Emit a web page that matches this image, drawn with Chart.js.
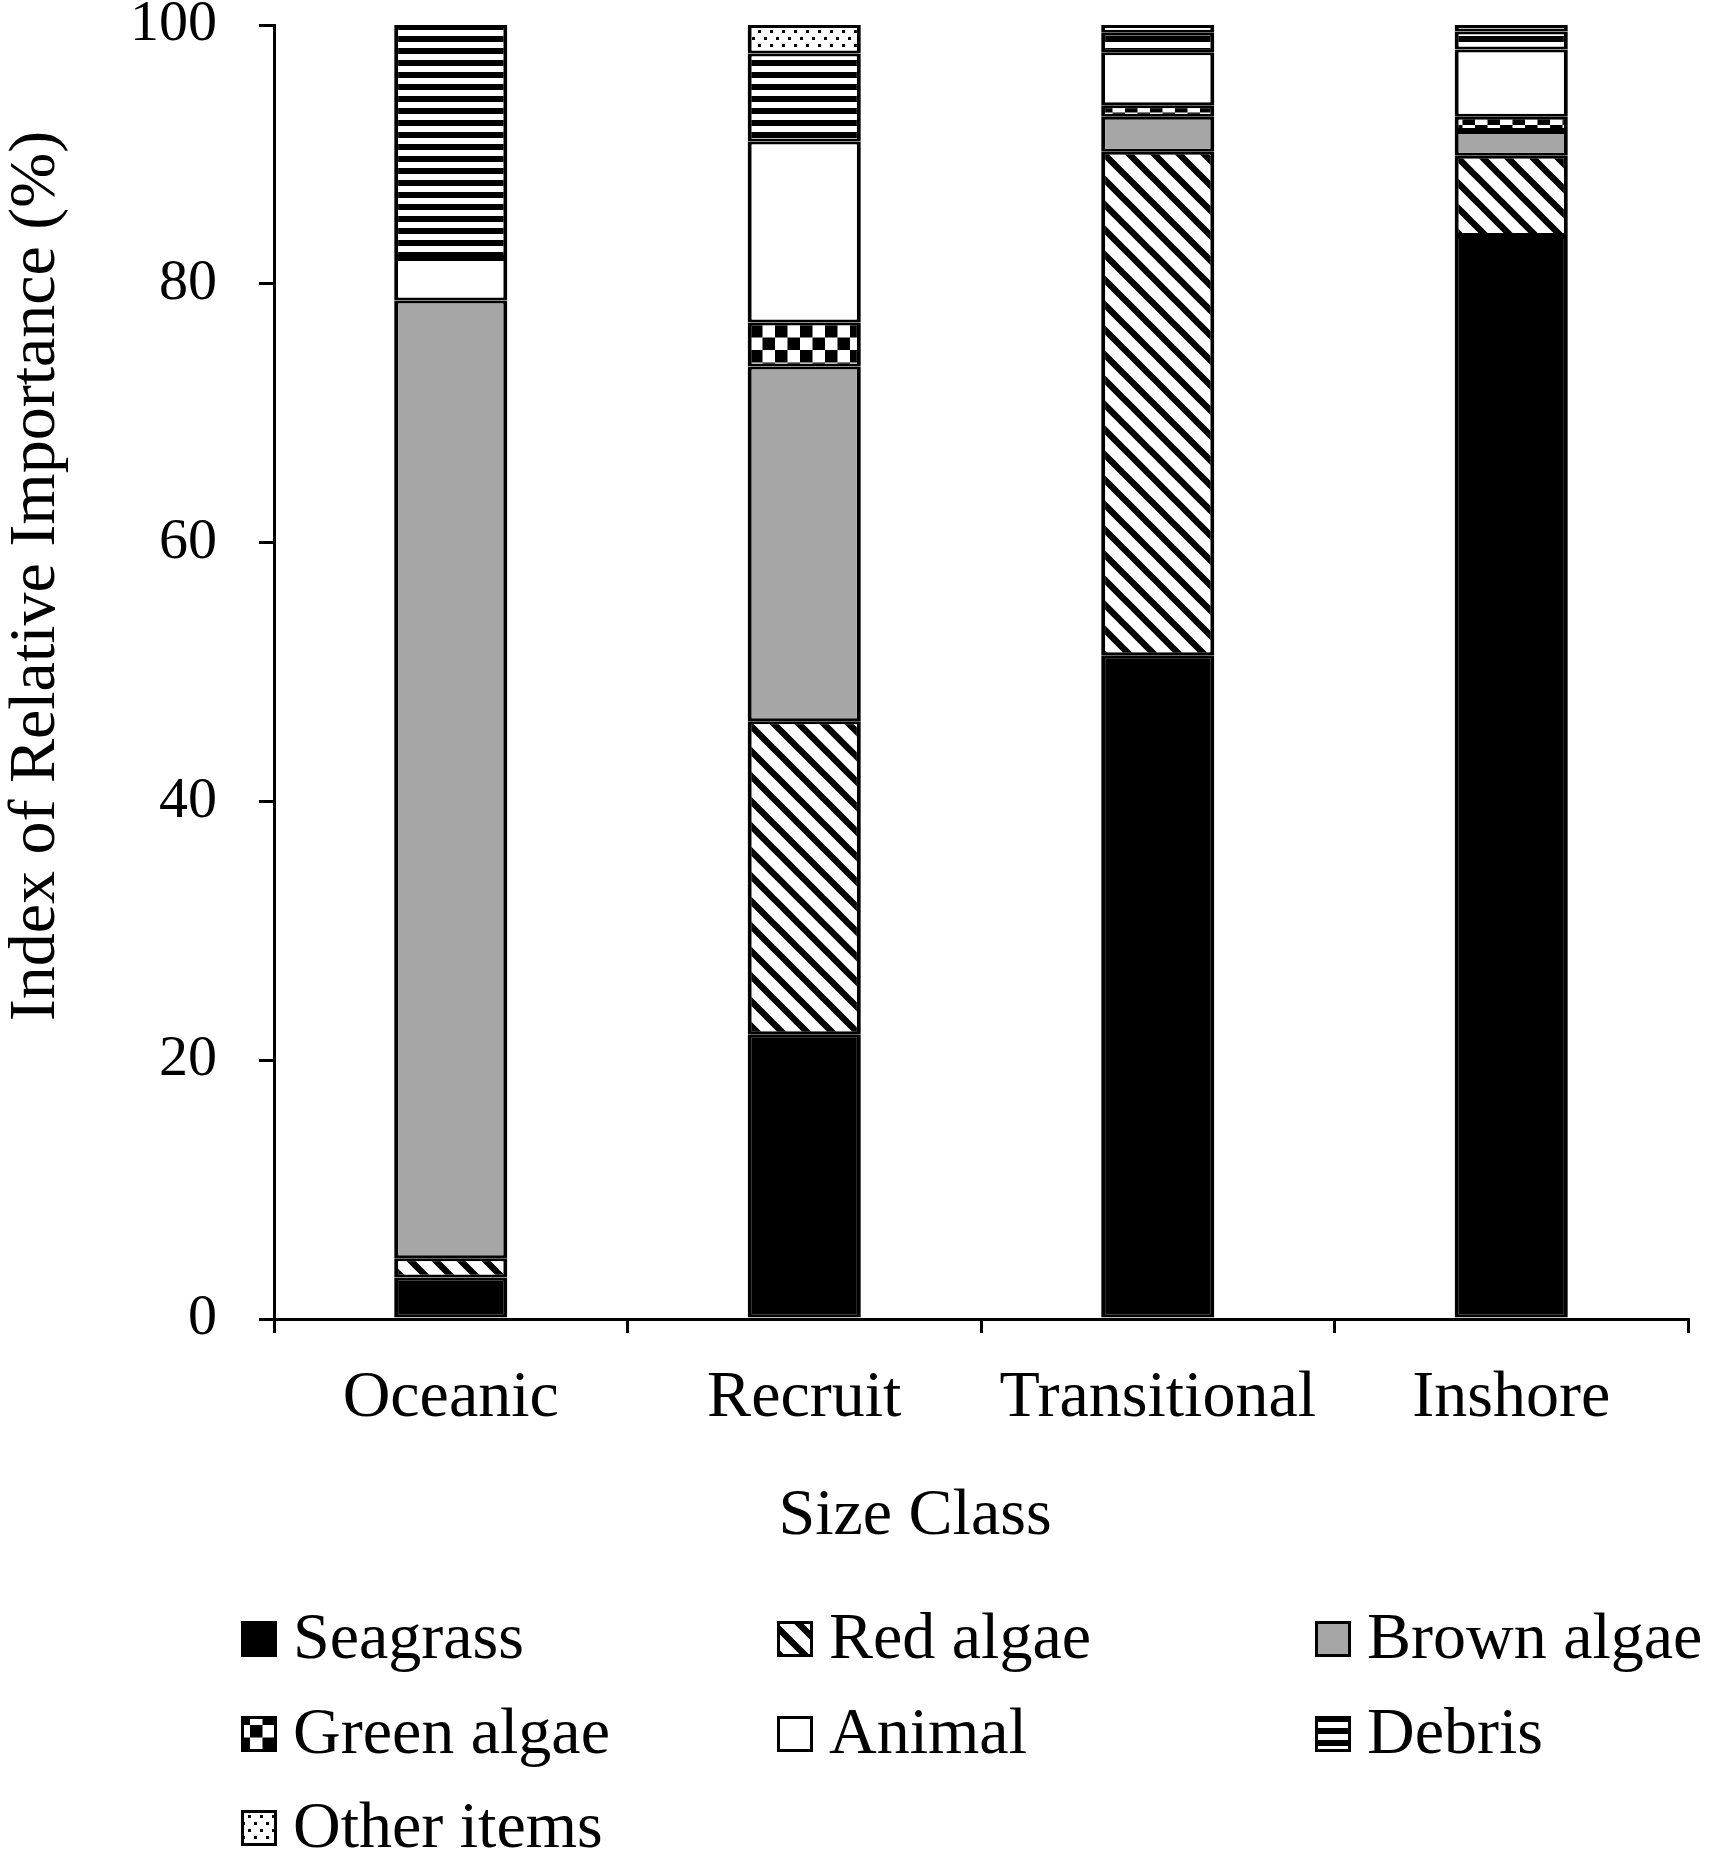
<!DOCTYPE html>
<html>
<head>
<meta charset="utf-8">
<script src="https://cdn.jsdelivr.net/npm/chart.js@4.4.1/dist/chart.umd.min.js"></script>
<style>
  html, body { margin: 0; padding: 0; background: #fff; }
  canvas { display: block; }
</style>
</head>
<body>
<canvas id="myChart" width="1709" height="1853"></canvas>
<script>
var categories = ["Oceanic", "Recruit", "Transitional", "Inshore"];
var seagrass = [3.2, 22.0, 51.3, 83.7];
var redAlgae = [1.5, 24.2, 38.9, 6.2];
var brownAlgae = [74.0, 27.4, 2.7, 1.9];
var greenAlgae = [0.0, 3.4, 0.9, 1.1];
var animal = [3.3, 14.0, 4.1, 5.2];
var debris = [18.0, 6.8, 1.5, 1.4];
var otherItems = [0.0, 2.2, 0.6, 0.5];
var yTicks = [0, 20, 40, 60, 80, 100];

var FONT = "'Liberation Serif', 'Times New Roman', serif";

// small tiles for the black and white fills
function makePattern(kind) {
  var c = document.createElement("canvas");
  var g = c.getContext("2d");
  if (kind === "diag") {
    c.width = 25; c.height = 25;
    g.fillStyle = "#fff"; g.fillRect(0, 0, 25, 25);
    g.strokeStyle = "#000"; g.lineWidth = 6.5;
    [-25, 0, 25].forEach(function (o) {
      g.beginPath(); g.moveTo(o - 10, -10); g.lineTo(o + 35, 35); g.stroke();
    });
  } else if (kind === "check") {
    c.width = 25; c.height = 25;
    g.fillStyle = "#fff"; g.fillRect(0, 0, 25, 25);
    g.fillStyle = "#000";
    g.fillRect(0, 0, 12.5, 12.5); g.fillRect(12.5, 12.5, 12.5, 12.5);
  } else if (kind === "hstripe") {
    c.width = 4; c.height = 12;
    g.fillStyle = "#fff"; g.fillRect(0, 0, 4, 12);
    g.fillStyle = "#000"; g.fillRect(0, 0, 4, 6);
  } else if (kind === "dots") {
    c.width = 12; c.height = 14;
    g.fillStyle = "#fff"; g.fillRect(0, 0, 12, 14);
    g.fillStyle = "#000";
    g.fillRect(2, 2, 3, 3); g.fillRect(8, 9, 3, 3);
  }
  return g.createPattern(c, "repeat");
}

var ctx = document.getElementById("myChart");

function series(label, data, fill) {
  return {
    label: label,
    data: data,
    backgroundColor: fill,
    borderColor: "#000",
    borderWidth: { left: 4, right: 4, top: 3, bottom: 3 },
    borderSkipped: false,
    barPercentage: 0.32,
    categoryPercentage: 1.0
  };
}

// legend in a 3 column grid under the plot, plus the two axis titles
var extras = {
  id: "extras",
  afterDraw: function (chart) {
    var c = chart.ctx;
    var area = chart.chartArea;
    c.save();
    c.fillStyle = "#000";
    c.font = "66px " + FONT;

    // y title
    c.save();
    c.translate(54, area.top + 551);
    c.rotate(-Math.PI / 2);
    c.textAlign = "center";
    c.textBaseline = "alphabetic";
    c.fillText("Index of Relative Importance (%)", 0, 0);
    c.restore();

    // x title
    c.textAlign = "center";
    c.textBaseline = "middle";
    c.fillText("Size Class", area.left + 641, area.bottom + 198);

    // legend
    var colX = [241, 777, 1315];
    var rowY = [1639, 1734, 1828];
    var box = 36;
    c.textAlign = "left";
    chart.data.datasets.forEach(function (ds, i) {
      var x = colX[i % 3];
      var y = rowY[Math.floor(i / 3)];
      c.fillStyle = ds.backgroundColor;
      c.fillRect(x, y - box / 2, box, box);
      c.strokeStyle = "#000";
      c.lineWidth = 3;
      c.strokeRect(x + 1.5, y - box / 2 + 1.5, box - 3, box - 3);
      c.fillStyle = "#000";
      c.fillText(ds.label, x + 52, y + 2);
    });
    c.restore();
  }
};

var chart = new Chart(ctx, {
  type: "bar",
  data: {
    labels: categories,
    datasets: [
      series("Seagrass", seagrass, "#000"),
      series("Red algae", redAlgae, makePattern("diag")),
      series("Brown algae", brownAlgae, "#a6a6a6"),
      series("Green algae", greenAlgae, makePattern("check")),
      series("Animal", animal, "#fff"),
      series("Debris", debris, makePattern("hstripe")),
      series("Other items", otherItems, makePattern("dots"))
    ]
  },
  options: {
    responsive: false,
    animation: false,
    devicePixelRatio: 1,
    layout: { padding: { top: 25, right: 21, left: 0, bottom: 300 } },
    plugins: {
      legend: { display: false },
      tooltip: { enabled: false }
    },
    scales: {
      x: {
        stacked: true,
        offset: true,
        grid: { offset: true, drawOnChartArea: false, tickLength: 14, color: "#000", lineWidth: 3 },
        border: { color: "#000", width: 3 },
        ticks: { color: "#000", font: { family: FONT, size: 66 }, padding: 26, maxRotation: 0 },
        afterFit: function (s) { s.height = 234; }
      },
      y: {
        stacked: true,
        min: yTicks[0],
        max: yTicks[yTicks.length - 1],
        afterBuildTicks: function (s) {
          s.ticks = yTicks.map(function (v) { return { value: v }; });
        },
        grid: { drawOnChartArea: false, tickLength: 15, color: "#000", lineWidth: 3 },
        border: { color: "#000", width: 3 },
        ticks: { color: "#000", font: { family: FONT, size: 58 }, padding: 42 },
        afterFit: function (s) {
          s.width = 274;
          s.paddingTop = 0;
          s.paddingBottom = 0;
        }
      }
    }
  },
  plugins: [extras]
});
</script>
</body>
</html>
